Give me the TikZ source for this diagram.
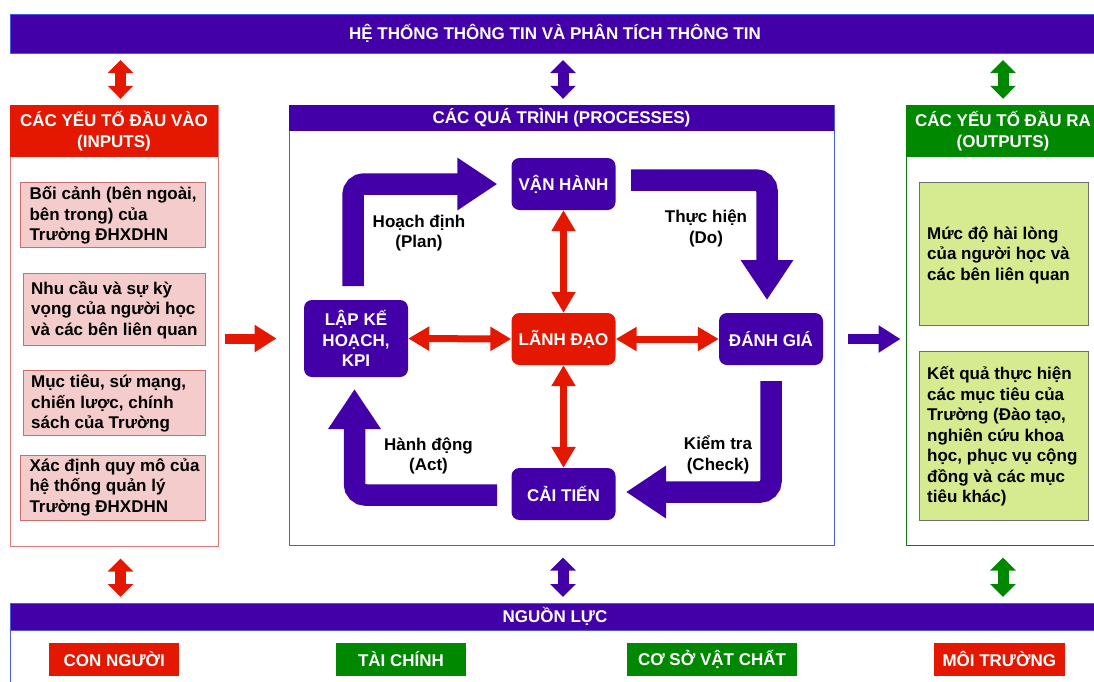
\documentclass[tikz,border=0pt]{standalone}
\usepackage{fontspec}
\setmainfont{Liberation Sans}
\usetikzlibrary{arrows.meta}
\definecolor{pur}{RGB}{68,0,168}
\definecolor{rd}{RGB}{228,24,0}
\definecolor{gr}{RGB}{0,136,0}
\definecolor{pinkf}{RGB}{245,204,204}
\definecolor{pinkd}{RGB}{205,110,110}
\definecolor{lgf}{RGB}{214,235,143}
\definecolor{lgd}{RGB}{110,110,110}
\definecolor{bl}{RGB}{70,90,230}
\definecolor{lred}{RGB}{226,120,120}
\definecolor{dgr}{RGB}{20,120,20}
\begin{document}
\begin{tikzpicture}[x=1pt,y=-1pt,
  font=\fontsize{17}{20.5}\selectfont\bfseries,
  banner/.style={fill=pur, draw=bl, line width=0.8pt, text=white, inner sep=0pt},
  frame/.style={draw=#1, line width=1pt, fill=white, inner sep=0pt},
  hdr/.style={fill=#1, text=white, inner sep=0pt, align=center},
  ibox/.style={fill=pinkf, draw=pinkd, line width=1pt, inner sep=0pt},
  obox/.style={fill=lgf, draw=lgd, line width=1pt, inner sep=0pt},
  txt/.style={text=black, inner sep=0pt, align=left, anchor=west},
  proc/.style={fill=#1, text=white, rounded corners=8pt, minimum width=104pt, minimum height=52pt, inner sep=0pt, align=center},
  lbl/.style={text=black, align=center, inner sep=0pt},
  res/.style={fill=#1, text=white, minimum height=33pt, inner sep=0pt},
  bigarrow/.style={draw=pur, line width=21.5pt, rounded corners=11pt, -{Triangle[width=50pt,length=40pt]}},
  reddbl/.style={draw=rd, line width=7pt, {Triangle[width=23pt,length=21pt]}-{Triangle[width=23pt,length=21pt]}},
  vblk/.style={draw=#1, line width=11pt, {Triangle[width=25pt,length=13pt]}-{Triangle[width=25pt,length=13pt]}},
  hblk/.style={draw=#1, line width=10pt, -{Triangle[width=26pt,length=22pt]}}
]
\useasboundingbox (0,0) rectangle (1094,681);
\clip (0,0) rectangle (1094,681);

% top banner
\node[banner, minimum width=1090pt, minimum height=39pt] (top) at (555,33.5) {HỆ THỐNG THÔNG TIN VÀ PHÂN TÍCH THÔNG TIN};

% inputs
\node[frame=lred, minimum width=208pt, minimum height=441pt] (inbox) at (114,325.5) {};
\node[hdr=rd, minimum width=208pt, minimum height=52pt] (inhead) at (114,131) {CÁC YẾU TỐ ĐẦU VÀO\\(INPUTS)};
\node[ibox, minimum width=185pt, minimum height=65pt] (i1) at (113.2,214.5) {};
\node[txt] (i1t) at (29.3,215.5) {Bối cảnh (bên ngoài,\\bên trong) của\\Trường ĐHXDHN};
\node[ibox, minimum width=182.4pt, minimum height=72pt] (i2) at (114.5,309) {};
\node[txt] (i2t) at (31,310) {Nhu cầu và sự kỳ\\vọng của người học\\và các bên liên quan};
\node[ibox, minimum width=182.4pt, minimum height=65pt] (i3) at (114.5,403.2) {};
\node[txt] (i3t) at (31,403.5) {Mục tiêu, sứ mạng,\\chiến lược, chính\\sách của Trường};
\node[ibox, minimum width=185pt, minimum height=65pt] (i4) at (113.2,487.5) {};
\node[txt] (i4t) at (29.3,487) {Xác định quy mô của\\hệ thống quản lý\\Trường ĐHXDHN};

% processes
\node[frame=bl, minimum width=545pt, minimum height=440pt] (pbox) at (561.5,325) {};
\node[hdr=pur, minimum width=545pt, minimum height=26pt] (phead) at (561.5,118) {CÁC QUÁ TRÌNH (PROCESSES)};

\node[proc=pur] (van) at (563.5,184) {VẬN HÀNH};
\node[proc=pur, minimum height=77pt] (lap) at (356,338.5) {LẬP KẾ\\HOẠCH,\\KPI};
\node[proc=rd] (lead) at (563.5,339) {LÃNH ĐẠO};
\node[proc=pur] (dan) at (771,339) {ĐÁNH GIÁ};
\node[proc=pur] (cai) at (563.5,494) {CẢI TIẾN};

\node[lbl] (lplan) at (419,233) {Hoạch định\\(Plan)};
\node[lbl] (ldo) at (706,228.5) {Thực hiện\\(Do)};
\node[lbl] (lcheck) at (718,455) {Kiểm tra\\(Check)};
\node[lbl] (lact) at (428.5,456) {Hành động\\(Act)};

% PDCA arrows
\coordinate (p1) at (353,300);
\coordinate (d1) at (616,180);
\coordinate (d2) at (767,313);
\coordinate (c1) at (771,365);
\coordinate (c2) at (616,492);
\coordinate (a1) at (512,495);
\coordinate (a2) at (354.5,377);
\draw[bigarrow, shorten <=14pt, shorten >=14pt] (p1) |- (van.west);
\draw[bigarrow, shorten <=15pt, shorten >=13pt] (d1) -| (d2);
\draw[bigarrow, shorten <=16pt, shorten >=10pt] (c1) |- (c2);
\draw[bigarrow, shorten <=15pt, shorten >=12pt] (a1) -| (a2);

% leadership arrows
\draw[reddbl] (van) -- (lead);
\draw[reddbl] (lead) -- (cai);
\draw[reddbl] (lap.east) -- (lead.west);
\draw[reddbl] (lead) -- (dan);

% outputs
\node[frame=dgr, minimum width=194pt, minimum height=440pt] (obx) at (1003,325) {};
\node[hdr=gr, minimum width=194pt, minimum height=52pt] (ohead) at (1003,131) {CÁC YẾU TỐ ĐẦU RA\\(OUTPUTS)};
\node[obox, minimum width=169pt, minimum height=142.6pt] (o1) at (1003.5,254) {};
\node[txt] (o1t) at (927,255) {Mức độ hài lòng\\của người học và\\các bên liên quan};
\node[obox, minimum width=169pt, minimum height=168.3pt] (o2) at (1003.5,435.9) {};
\node[txt] (o2t) at (927,436.5) {Kết quả thực hiện\\các mục tiêu của\\Trường (Đào tạo,\\nghiên cứu khoa\\học, phục vụ cộng\\đồng và các mục\\tiêu khác)};

% flow arrows
\draw[hblk=rd, shorten <=6pt, shorten >=12pt] (inbox.east |- lap) -- (pbox.west |- lap);
\draw[hblk=pur, shorten <=13pt, shorten >=5pt] (pbox.east |- dan) -- (obx.west |- dan);

% bottom resources
\node[frame=bl, minimum width=1090pt, minimum height=100pt] (bbox) at (555,653) {};
\node[banner, minimum width=1090pt, minimum height=27pt] (bot) at (555,616.5) {NGUỒN LỰC};
\node[res=rd, minimum width=130pt] (r1) at (114.3,659.3) {CON NGƯỜI};
\node[res=gr, minimum width=130.7pt] (r2) at (401,659.3) {TÀI CHÍNH};
\node[res=gr, minimum width=170pt] (r3) at (712,659.3) {CƠ SỞ VẬT CHẤT};
\node[res=rd, minimum width=131.4pt] (r4) at (999.3,659.3) {MÔI TRƯỜNG};

% vertical block arrows
\coordinate (ta1) at (120.5,53);
\coordinate (ta2) at (563,53);
\coordinate (ta3) at (1003,53);
\coordinate (ba1) at (120.5,603);
\coordinate (ba2) at (563,603);
\coordinate (ba3) at (1003,603);
\draw[vblk=rd, shorten <=7pt, shorten >=6pt] (ta1) -- (ta1 |- inhead.north);
\draw[vblk=pur, shorten <=7pt, shorten >=6pt] (ta2) -- (ta2 |- phead.north);
\draw[vblk=gr, shorten <=7pt, shorten >=6pt] (ta3) -- (ta3 |- ohead.north);
\draw[vblk=rd, shorten <=12pt, shorten >=6pt] (ba1 |- inbox.south) -- (ba1);
\draw[vblk=pur, shorten <=12pt, shorten >=6pt] (ba2 |- pbox.south) -- (ba2);
\draw[vblk=gr, shorten <=12pt, shorten >=6pt] (ba3 |- obx.south) -- (ba3);
\end{tikzpicture}
\end{document}
